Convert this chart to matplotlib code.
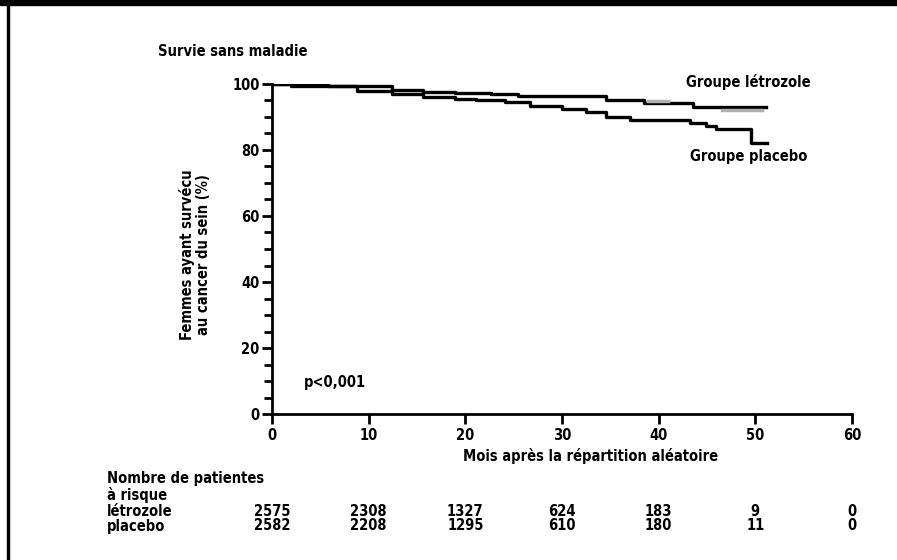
import matplotlib
matplotlib.use("Agg")
import matplotlib.pyplot as plt
from matplotlib.patches import Rectangle
from matplotlib.ticker import MultipleLocator

plt.rcParams['font.family'] = ['DejaVu Sans']
plt.rcParams['font.stretch'] = 'condensed'
plt.rcParams['font.weight'] = 'bold'
FS = 10.5

# Kaplan-Meier steps (months, % survival)
letro_t = [0, 5.8, 12.4, 15.6, 18.9, 22.7, 25.4, 34.6, 38.5, 43.5, 51.1]
letro_s = [100, 99.3, 98.3, 97.7, 97.3, 97.0, 96.3, 95.0, 94.2, 93.1, 93.1]
plac_t = [0, 2.0, 8.75, 12.4, 15.6, 18.9, 21.1, 24.1, 26.7, 30.0, 32.5, 34.6, 37.0,
          43.2, 44.9, 45.9, 49.5, 51.2]
plac_s = [100, 99.3, 98.0, 97.0, 96.0, 95.6, 95.1, 94.4, 93.4, 92.3, 91.6, 90.1, 89.2,
          88.3, 87.3, 86.3, 82.2, 82.2]

# grey censoring marks on the letrozole curve
cens_t = [[38.9, 41.0], [46.5, 50.7]]
cens_s = [94.8, 92.1]

x_ticks = [0, 10, 20, 30, 40, 50, 60]
risk_letro = [2575, 2308, 1327, 624, 183, 9, 0]
risk_plac = [2582, 2208, 1295, 610, 180, 11, 0]

fig = plt.figure(figsize=(8.97, 5.6), dpi=100)
ax = fig.add_axes([272 / 897, 146 / 560, 580 / 897, 330 / 560])

ax.step(letro_t, letro_s, where='post', color='black', lw=2.4)
ax.step(plac_t, plac_s, where='post', color='black', lw=2.4)
for ct, cs in zip(cens_t, cens_s):
    ax.plot(ct, [cs, cs], color='#b0b0b0', lw=2.5)

ax.set_xlim(0, 60)
ax.set_ylim(0, 100)
ax.set_xticks(x_ticks)
ax.set_yticks([0, 20, 40, 60, 80, 100])
ax.yaxis.set_minor_locator(MultipleLocator(5))
for s in ['top', 'right']:
    ax.spines[s].set_visible(False)
for s in ['left', 'bottom']:
    ax.spines[s].set_linewidth(2)
ax.tick_params(axis='both', which='major', length=7, width=2, labelsize=FS, pad=2)
ax.tick_params(axis='y', which='minor', length=6, width=2)
ax.tick_params(axis='x', pad=3)

ax.set_xlabel('Mois après la répartition aléatoire', fontsize=FS, fontweight='bold')
ax.xaxis.set_label_coords((591 - 272) / 580, -(456 - 414) / 330)
ax.xaxis.label.set_va('center')
ax.set_ylabel('Femmes ayant survécu\nau cancer du sein (%)', fontsize=FS,
              fontweight='bold', linespacing=1.1)
ax.yaxis.set_label_coords(-(272 - 195) / 580, (414 - 255) / 330)
ax.yaxis.label.set_va('center')

fig.text(158 / 897, 1 - 51 / 560, 'Survie sans maladie', fontsize=FS, fontweight='bold',
         va='center', ha='left')
fig.text(686 / 897, 1 - 82 / 560, 'Groupe létrozole', fontsize=FS, fontweight='bold',
         va='center', ha='left')
fig.text(690 / 897, 1 - 157 / 560, 'Groupe placebo', fontsize=FS, fontweight='bold',
         va='center', ha='left')
fig.text(304 / 897, 1 - 382 / 560, 'p<0,001', fontsize=FS, fontweight='bold',
         va='center', ha='left')

# number at risk table
rows_y = [479, 495, 511, 526]
for label, yy in zip(['Nombre de patientes', 'à risque', 'létrozole', 'placebo'], rows_y):
    fig.text(107 / 897, 1 - yy / 560, label, fontsize=FS, fontweight='bold',
             va='center', ha='left')
y_l = -(511 - 414) / 330
y_p = -(526 - 414) / 330
for xt, a, b in zip(x_ticks, risk_letro, risk_plac):
    ax.text(xt, y_l, str(a), transform=ax.get_xaxis_transform(), fontsize=FS,
            fontweight='bold', ha='center', va='center', clip_on=False)
    ax.text(xt, y_p, str(b), transform=ax.get_xaxis_transform(), fontsize=FS,
            fontweight='bold', ha='center', va='center', clip_on=False)

# outer frame: black bar on top, thin line on the left
fig.patches.append(Rectangle((0, 1 - 5 / 560), 1, 5 / 560, transform=fig.transFigure,
                             color='black', zorder=10))
fig.patches.append(Rectangle((7 / 897, 0), 2 / 897, 1, transform=fig.transFigure,
                             color='black', zorder=10))

fig.savefig('out.png', dpi=100)
